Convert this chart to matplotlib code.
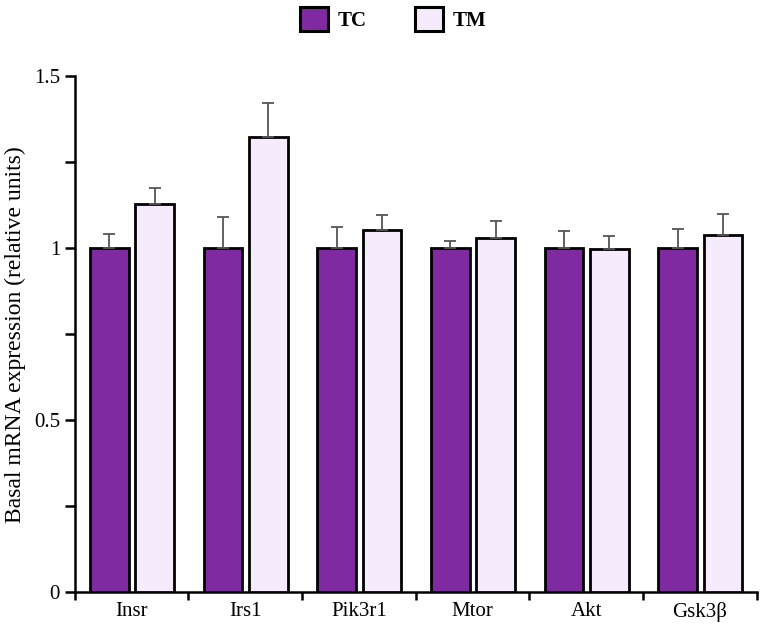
import matplotlib.pyplot as plt
import numpy as np
from matplotlib.patches import Patch

genes = ["Insr", "Irs1", "Pik3r1", "Mtor", "Akt", "Gsk3\u03b2"]
tc_mean = [1.0, 1.0, 1.0, 1.0, 1.0, 1.0]
tc_err = [0.041, 0.090, 0.061, 0.021, 0.050, 0.056]
tm_mean = [1.129, 1.322, 1.054, 1.030, 0.998, 1.039]
tm_err = [0.047, 0.100, 0.044, 0.050, 0.038, 0.061]

tc_color = "#7f2aa0"
tm_color = "#f5ebfd"

plt.rcParams['font.family'] = ['Liberation Serif', 'DejaVu Serif']

fig = plt.figure(figsize=(7.62, 6.3), dpi=100)
ax = fig.add_axes([0.098, 0.060, 0.895, 0.819])

x = np.arange(len(genes))
w = 0.34
err_kw = dict(ecolor="#555555", elinewidth=1.3, capsize=4, capthick=1.3)
ax.bar(x - 0.195, tc_mean, w, color=tc_color, edgecolor="black", linewidth=2,
       yerr=[np.zeros(len(genes)), tc_err], error_kw=err_kw, zorder=3)
ax.bar(x + 0.205, tm_mean, w, color=tm_color, edgecolor="black", linewidth=2,
       yerr=[np.zeros(len(genes)), tm_err], error_kw=err_kw, zorder=3)

ax.set_xlim(-0.5, len(genes) - 0.5)
ax.set_ylim(0, 1.5)
ax.set_xticks(x)
ax.set_xticklabels(genes, fontsize=15)
ax.set_xticks(np.arange(-0.5, len(genes), 1), minor=True)
ax.tick_params(axis='x', which='major', length=0, pad=7)
ax.tick_params(axis='x', which='minor', length=6, width=1.8, direction='out')

ax.set_yticks([0, 0.5, 1, 1.5])
ax.set_yticklabels(["0", "0.5", "1", "1.5"], fontsize=15)
ax.set_yticks([0.25, 0.75, 1.25], minor=True)
ax.tick_params(axis='y', which='both', length=7, width=1.8, direction='out')
ax.set_ylabel("Basal mRNA expression (relative units)", fontsize=17, labelpad=6)

for s in ["top", "right"]:
    ax.spines[s].set_visible(False)
for s in ["left", "bottom"]:
    ax.spines[s].set_linewidth(1.8)

handles = [Patch(facecolor=tc_color, edgecolor="black", linewidth=2.2, label="TC"),
           Patch(facecolor=tm_color, edgecolor="black", linewidth=2.2, label="TM")]
fig.legend(handles=handles, loc="upper center", bbox_to_anchor=(0.516, 1.018), ncol=2,
           frameon=False, prop={'weight': 'bold', 'size': 15},
           handlelength=1.35, handleheight=1.35, columnspacing=2.3, handletextpad=0.45)

plt.savefig("out.png", dpi=100)
